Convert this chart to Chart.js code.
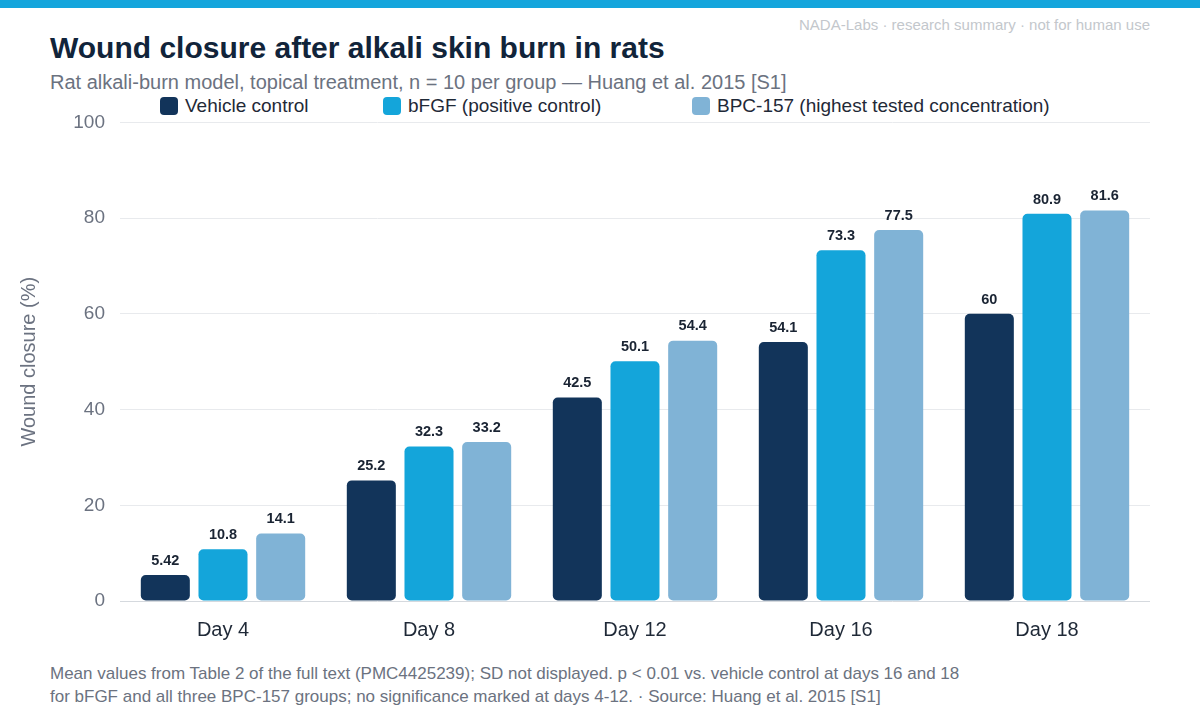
<!DOCTYPE html>
<html>
<head>
<meta charset="utf-8">
<script src="https://cdn.jsdelivr.net/npm/chart.js@4/dist/chart.umd.min.js"></script>
<style>
  body { margin: 0; width: 1200px; height: 720px; background: #fff; font-family: "Liberation Sans", Arial, sans-serif; position: relative; overflow: hidden; }
  .stripe { position: absolute; left: 0; top: 0; width: 1200px; height: 8px; background: #14a5dc; }
  .mark { position: absolute; right: 50px; top: 16px; font-size: 15px; color: #c3c7cc; }
  h1 { position: absolute; left: 50px; top: 31px; margin: 0; font-size: 30px; font-weight: bold; color: #11243a; }
  .sub { position: absolute; left: 50px; top: 71px; font-size: 20px; color: #6b7280; }
  .legend { position: absolute; top: 95px; left: 0; height: 22px; }
  .legend .item { position: absolute; top: 0; display: flex; align-items: center; font-size: 19px; color: #1f2937; white-space: nowrap; }
  .legend .box { width: 18px; height: 18px; border-radius: 4px; margin-right: 7px; }
  .wrap { position: absolute; left: 0; top: 96px; width: 1200px; height: 563px; }
  .foot { position: absolute; left: 50px; top: 662px; font-size: 17px; line-height: 23px; color: #6b7280; }
</style>
</head>
<body>
<div class="stripe"></div>
<div class="mark">NADA-Labs · research summary · not for human use</div>
<h1>Wound closure after alkali skin burn in rats</h1>
<div class="sub">Rat alkali-burn model, topical treatment, n = 10 per group — Huang et al. 2015 [S1]</div>
<div class="legend" id="legend"></div>
<div class="wrap"><canvas id="chart"></canvas></div>
<div class="foot">Mean values from Table 2 of the full text (PMC4425239); SD not displayed. p &lt; 0.01 vs. vehicle control at days 16 and 18<br>for bFGF and all three BPC-157 groups; no significance marked at days 4-12. · Source: Huang et al. 2015 [S1]</div>
<script>
const days = ["Day 4", "Day 8", "Day 12", "Day 16", "Day 18"];
const seriesNames = ["Vehicle control", "bFGF (positive control)", "BPC-157 (highest tested concentration)"];
const vehicle = [5.42, 25.2, 42.5, 54.1, 60];
const bfgf = [10.8, 32.3, 50.1, 73.3, 80.9];
const bpc157 = [14.1, 33.2, 54.4, 77.5, 81.6];
const yTicks = [0, 20, 40, 60, 80, 100];

const colors = ["#12345a", "#14a5da", "#80b3d6"];
const legendLeft = [160, 383, 692];
const FONT = "'Liberation Sans', Arial, sans-serif";

// value labels above each bar
const barLabels = {
    id: "barLabels",
    afterDatasetsDraw(chart) {
        const ctx = chart.ctx;
        ctx.save();
        ctx.font = "bold 14.5px " + FONT;
        ctx.fillStyle = "#1a2433";
        ctx.textAlign = "center";
        ctx.textBaseline = "bottom";
        chart.data.datasets.forEach((ds, i) => {
            chart.getDatasetMeta(i).data.forEach((bar, j) => {
                ctx.fillText(String(ds.data[j]), bar.x, bar.y - 7);
            });
        });
        ctx.restore();
    }
};

const chart = new Chart(document.getElementById("chart"), {
    type: "bar",
    data: {
        labels: days,
        datasets: [vehicle, bfgf, bpc157].map((vals, i) => ({
            label: seriesNames[i],
            data: vals,
            backgroundColor: colors[i],
            borderRadius: 5,
            borderSkipped: false,
            categoryPercentage: 0.84,
            barPercentage: 0.85,
        }))
    },
    options: {
        responsive: true,
        maintainAspectRatio: false,
        animation: false,
        layout: { padding: { left: 13, right: 50, top: 3, bottom: 0 } },
        plugins: {
            legend: { display: false },
            tooltip: { enabled: false },
        },
        scales: {
            x: {
                grid: { display: false, drawTicks: false },
                border: { display: false },
                ticks: { color: "#1f2937", font: { size: 20, family: FONT }, padding: 17 },
            },
            y: {
                min: 0,
                max: 100,
                afterBuildTicks: (scale) => { scale.ticks = yTicks.map((v) => ({ value: v })); },
                afterFit: (scale) => { scale.width = 107; },
                grid: { color: (c) => (c.tick && c.tick.value === 0 ? "#d5d9de" : "#e8eaed"), drawTicks: false, lineWidth: 1 },
                border: { display: false },
                ticks: { color: "#6b7280", font: { size: 19, family: FONT }, padding: 15 },
                title: { display: true, text: "Wound closure (%)", color: "#6b7280", font: { size: 20, family: FONT } },
            }
        }
    },
    plugins: [barLabels]
});

// html legend from the chart's datasets
const legendEl = document.getElementById("legend");
chart.data.datasets.forEach((ds, i) => {
    const item = document.createElement("div");
    item.className = "item";
    item.style.left = legendLeft[i] + "px";
    item.innerHTML = `<span class="box" style="background:${ds.backgroundColor}"></span>${ds.label}`;
    legendEl.appendChild(item);
});
</script>
</body>
</html>
